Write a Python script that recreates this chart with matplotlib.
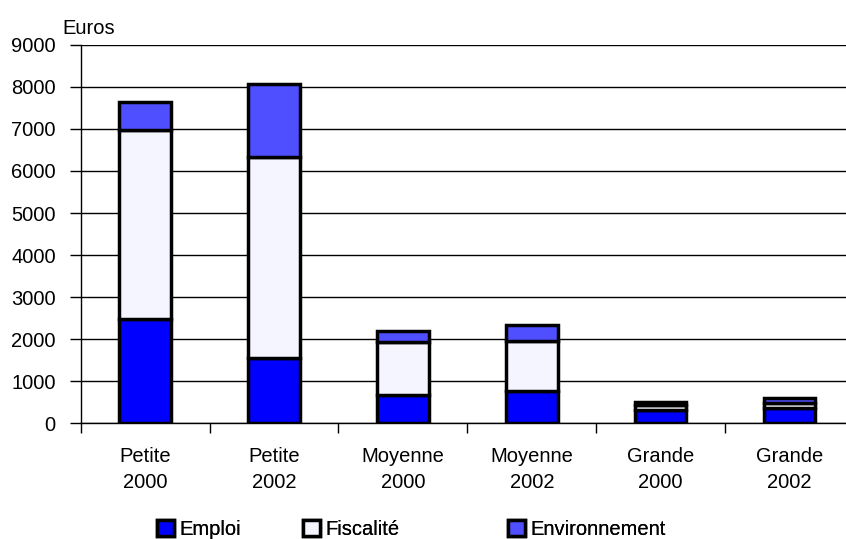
import numpy as np
import matplotlib
matplotlib.use("Agg")
import matplotlib.pyplot as plt
from matplotlib.patches import Patch

plt.rcParams['font.family'] = ['Liberation Sans', 'DejaVu Sans']

categories = ["Petite\n2000", "Petite\n2002", "Moyenne\n2000", "Moyenne\n2002", "Grande\n2000", "Grande\n2002"]
emploi = [2480, 1560, 680, 760, 310, 370]
fiscalite = [4500, 4760, 1250, 1210, 120, 120]
environnement = [650, 1750, 260, 360, 90, 120]

series_names = ["Emploi", "Fiscalité", "Environnement"]
colors = ["#0000FF", "#F5F5FF", "#4F4FFF"]


def main():
    fig = plt.figure(figsize=(8.46, 5.39), dpi=100)
    ax = fig.add_axes([0.0954, 0.2145, 0.914, 0.7025])

    x = np.arange(len(categories))
    bottom = np.zeros(len(categories))
    for vals, name, col in zip([emploi, fiscalite, environnement], series_names, colors):
        ax.bar(x, vals, width=0.4, bottom=bottom, color=col, edgecolor="black",
               linewidth=2.5, label=name, zorder=3)
        bottom += np.array(vals)

    ax.set_xlim(-0.5, len(categories) - 0.5)
    ax.set_ylim(0, 9000)
    ax.set_yticks(np.arange(0, 9001, 1000))
    ax.yaxis.grid(True, color="black", linewidth=1.0, zorder=0)
    ax.set_axisbelow(True)

    ax.set_xticks(x)
    ax.set_xticklabels(categories, fontsize=14.5, linespacing=1.5)
    ax.set_xticks(np.arange(-0.5, len(categories), 1.0), minor=True)
    ax.tick_params(axis="x", which="major", length=0, pad=17)
    ax.tick_params(axis="x", which="minor", length=7, width=1, direction="out")
    ax.tick_params(axis="y", length=8, width=1, labelsize=14.5, pad=10)

    for s in ["top", "right"]:
        ax.spines[s].set_visible(False)
    ax.spines["left"].set_linewidth(1)
    ax.spines["bottom"].set_linewidth(1)

    fig.text(62 / 846, 1 - 28 / 539, "Euros", fontsize=14.5, ha="left", va="center")

    # one legend per entry, Excel spaces them unevenly
    lefts = [157, 303, 508]
    for name, col, lx in zip(series_names, colors, lefts):
        leg = fig.legend([Patch(facecolor=col, edgecolor="black", linewidth=2.5)], [name],
                         loc="center left", bbox_to_anchor=(lx / 846, 1 - 529.5 / 539),
                         frameon=False, fontsize=14.5, handlelength=0.85, handleheight=0.85,
                         handletextpad=0.25, borderpad=0, borderaxespad=0)
        fig.add_artist(leg)

    fig.savefig("out.png", dpi=100)


if __name__ == '__main__':
    main()
